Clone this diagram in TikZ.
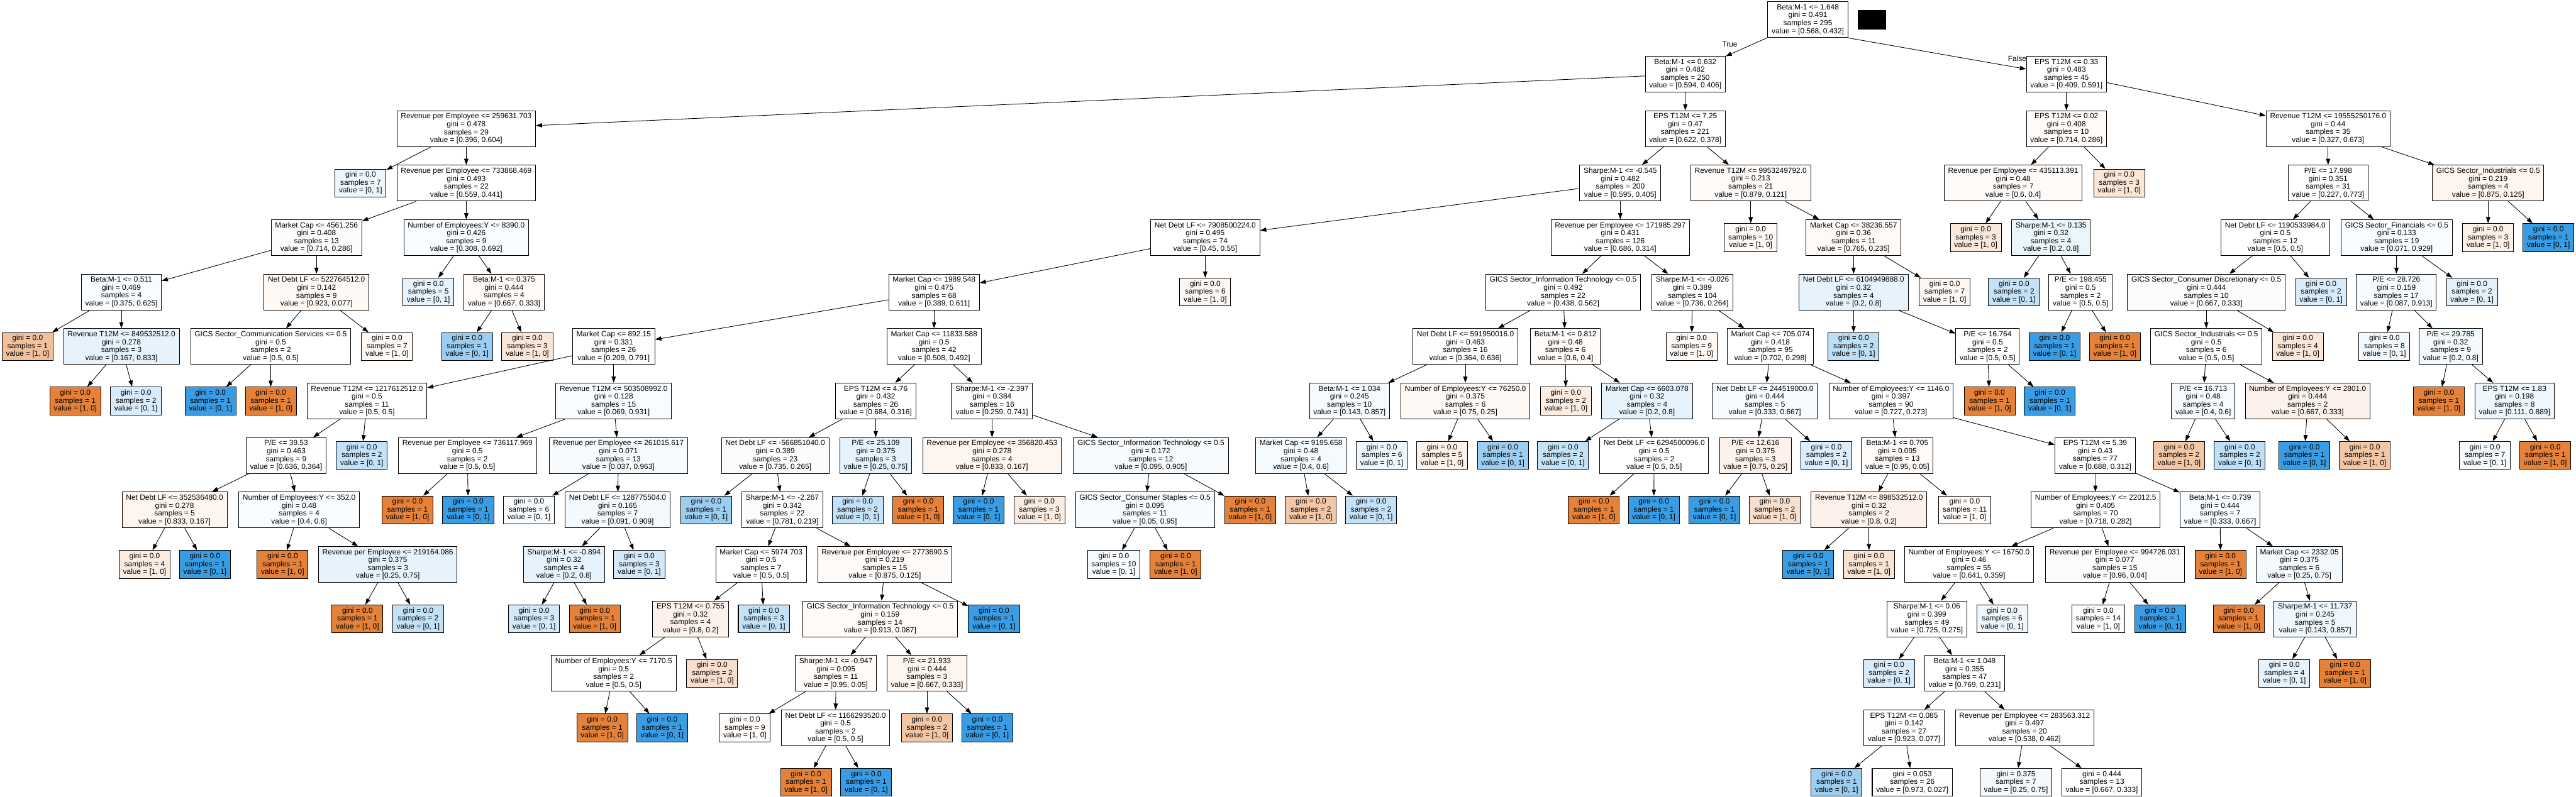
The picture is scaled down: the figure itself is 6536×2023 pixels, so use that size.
\documentclass[tikz,border=0pt]{standalone}
\usepackage{fontspec}
\setmainfont{Liberation Sans}
\usetikzlibrary{arrows.meta}
\definecolor{orng}{HTML}{E58139}
\definecolor{blu}{HTML}{399DE5}
\newcommand\DN[8]{\node[dn,fill=#4] (#1) at (#2,{50+138.3*#3}) {#5\\gini = #6\\samples = #7\\value = #8};}
\newcommand\LN[7]{\node[ln,fill=#4] (#1) at (#2,{50+138.3*#3}) {gini = #5\\samples = #6\\value = #7};}
\begin{document}
\begin{tikzpicture}[x=0.25pt,y=-0.25pt,
  base/.style={draw=black,line width=0.4pt,rectangle,align=center,inner xsep=2.5pt,inner ysep=0pt,font=\fontsize{4.75pt}{5pt}\selectfont},
  dn/.style={base,minimum height=22.75pt},
  ln/.style={base,minimum height=17.75pt},
  conn/.style={-{Triangle[length=3.9pt,width=2.7pt]},line width=0.35pt},
  lbl/.style={font=\fontsize{4.75pt}{5pt}\selectfont,inner sep=0pt}]
\fill[white] (0,0) rectangle (6536,2023);
\useasboundingbox (0,0) rectangle (6536,2023);
% level 0
\DN{n0}{4587}{0}{white}{Beta:M-1 <= 1.648}{0.491}{295}{[0.568, 0.432]}
\node[fill=black,inner sep=0pt,minimum width=18.25pt,minimum height=12.25pt] (redact) at (4749.5,50.5) {};
\node[lbl] (ltrue) at (4389,112) {True};
\node[lbl] (lfalse) at (5118,148) {False};
% level 1
\DN{n1}{4276}{1}{white}{Beta:M-1 <= 0.632}{0.482}{250}{[0.594, 0.406]}
\DN{n2}{5243}{1}{white}{EPS T12M <= 0.33}{0.483}{45}{[0.409, 0.591]}
% level 2
\DN{n3}{1183}{2}{white}{Revenue per Employee <= 259631.703}{0.478}{29}{[0.396, 0.604]}
\DN{n4}{4276}{2}{white}{EPS T12M <= 7.25}{0.47}{221}{[0.622, 0.378]}
\DN{n5}{5243}{2}{orng!3}{EPS T12M <= 0.02}{0.408}{10}{[0.714, 0.286]}
\DN{n6}{5907}{2}{white}{Revenue T12M <= 19555250176.0}{0.44}{35}{[0.327, 0.673]}
% level 3
\LN{n7}{915}{3}{blu!8}{0.0}{7}{[0, 1]}
\DN{n8}{1183}{3}{white}{Revenue per Employee <= 733868.469}{0.493}{22}{[0.559, 0.441]}
\DN{n9}{4111}{3}{white}{Sharpe:M-1 <= -0.545}{0.482}{200}{[0.595, 0.405]}
\DN{n10}{4442}{3}{orng!3}{Revenue T12M <= 9953249792.0}{0.213}{21}{[0.879, 0.121]}
\DN{n11}{5108}{3}{orng!3}{Revenue per Employee <= 435113.391}{0.48}{7}{[0.6, 0.4]}
\LN{n12}{5377}{3}{orng!20}{0.0}{3}{[1, 0]}
\DN{n13}{5907}{3}{white}{P/E <= 17.998}{0.351}{31}{[0.227, 0.773]}
\DN{n14}{6313}{3}{orng!8}{GICS Sector\_Industrials <= 0.5}{0.219}{4}{[0.875, 0.125]}
% level 4
\DN{n15}{803}{4}{orng!2}{Market Cap <= 4561.256}{0.408}{13}{[0.714, 0.286]}
\DN{n16}{1183}{4}{blu!3}{Number of Employees:Y <= 8390.0}{0.426}{9}{[0.308, 0.692]}
\DN{n17}{3058}{4}{white}{Net Debt LF <= 7908500224.0}{0.495}{74}{[0.45, 0.55]}
\DN{n18}{4111}{4}{white}{Revenue per Employee <= 171985.297}{0.431}{126}{[0.686, 0.314]}
\LN{n19}{4442}{4}{orng!4}{0.0}{10}{[1, 0]}
\DN{n20}{4703}{4}{orng!4}{Market Cap <= 38236.557}{0.36}{11}{[0.765, 0.235]}
\LN{n21}{5013}{4}{orng!18}{0.0}{3}{[1, 0]}
\DN{n22}{5204}{4}{blu!10}{Sharpe:M-1 <= 0.135}{0.32}{4}{[0.2, 0.8]}
\DN{n23}{5773}{4}{white}{Net Debt LF <= 1190533984.0}{0.5}{12}{[0.5, 0.5]}
\DN{n24}{6081}{4}{blu!3}{GICS Sector\_Financials <= 0.5}{0.133}{19}{[0.071, 0.929]}
\LN{n25}{6313}{4}{orng!12}{0.0}{3}{[1, 0]}
\LN{n26}{6466}{4}{blu}{0.0}{1}{[0, 1]}
% level 5
\DN{n27}{308}{5}{blu!3}{Beta:M-1 <= 0.511}{0.469}{4}{[0.375, 0.625]}
\DN{n28}{803}{5}{orng!5}{Net Debt LF <= 522764512.0}{0.142}{9}{[0.923, 0.077]}
\LN{n29}{1087}{5}{blu!12}{0.0}{5}{[0, 1]}
\DN{n30}{1279}{5}{orng!4}{Beta:M-1 <= 0.375}{0.444}{4}{[0.667, 0.333]}
\DN{n31}{2370}{5}{white}{Market Cap <= 1989.548}{0.475}{68}{[0.389, 0.611]}
\LN{n32}{3058}{5}{orng!6}{0.0}{6}{[1, 0]}
\DN{n33}{3966}{5}{white}{GICS Sector\_Information Technology <= 0.5}{0.492}{22}{[0.438, 0.562]}
\DN{n34}{4294}{5}{white}{Sharpe:M-1 <= -0.026}{0.389}{104}{[0.736, 0.264]}
\DN{n35}{4703}{5}{blu!12}{Net Debt LF <= 6104949888.0}{0.32}{4}{[0.2, 0.8]}
\LN{n36}{4934}{5}{orng!6}{0.0}{7}{[1, 0]}
\LN{n37}{5110}{5}{blu!30}{0.0}{2}{[0, 1]}
\DN{n38}{5279}{5}{white}{P/E <= 198.455}{0.5}{2}{[0.5, 0.5]}
\DN{n39}{5598}{5}{orng!2}{GICS Sector\_Consumer Discretionary <= 0.5}{0.444}{10}{[0.667, 0.333]}
\LN{n40}{5889}{5}{blu!20}{0.0}{2}{[0, 1]}
\DN{n41}{6080}{5}{blu!4}{P/E <= 28.726}{0.159}{17}{[0.087, 0.913]}
\LN{n42}{6272}{5}{blu!15}{0.0}{2}{[0, 1]}
% level 6
\LN{n43}{70}{6}{orng!50}{0.0}{1}{[1, 0]}
\DN{n44}{308}{6}{blu!12}{Revenue T12M <= 849532512.0}{0.278}{3}{[0.167, 0.833]}
\DN{n45}{687}{6}{white}{GICS Sector\_Communication Services <= 0.5}{0.5}{2}{[0.5, 0.5]}
\LN{n46}{982}{6}{orng!5}{0.0}{7}{[1, 0]}
\LN{n47}{1185}{6}{blu!50}{0.0}{1}{[0, 1]}
\LN{n48}{1338}{6}{orng!20}{0.0}{3}{[1, 0]}
\DN{n49}{1557}{6}{blu!2}{Market Cap <= 892.15}{0.331}{26}{[0.209, 0.791]}
\DN{n50}{2370}{6}{white}{Market Cap <= 11833.588}{0.5}{42}{[0.508, 0.492]}
\DN{n51}{3718}{6}{blu!1}{Net Debt LF <= 591950016.0}{0.463}{16}{[0.364, 0.636]}
\DN{n52}{3972}{6}{orng!3}{Beta:M-1 <= 0.812}{0.48}{6}{[0.6, 0.4]}
\LN{n53}{4292}{6}{orng!5}{0.0}{9}{[1, 0]}
\DN{n54}{4492}{6}{white}{Market Cap <= 705.074}{0.418}{95}{[0.702, 0.298]}
\LN{n55}{4703}{6}{blu!33}{0.0}{2}{[0, 1]}
\DN{n56}{5043}{6}{white}{P/E <= 16.764}{0.5}{2}{[0.5, 0.5]}
\LN{n57}{5213}{6}{blu}{0.0}{1}{[0, 1]}
\LN{n58}{5366}{6}{orng}{0.0}{1}{[1, 0]}
\DN{n59}{5598}{6}{white}{GICS Sector\_Industrials <= 0.5}{0.5}{6}{[0.5, 0.5]}
\LN{n60}{5830}{6}{orng!20}{0.0}{4}{[1, 0]}
\LN{n61}{6050}{6}{blu!6}{0.0}{8}{[0, 1]}
\DN{n62}{6218}{6}{blu!6}{P/E <= 29.785}{0.32}{9}{[0.2, 0.8]}
% level 7
\LN{n63}{191}{7}{orng}{0.0}{1}{[1, 0]}
\LN{n64}{345}{7}{blu!20}{0.0}{2}{[0, 1]}
\LN{n65}{534}{7}{blu}{0.0}{1}{[0, 1]}
\LN{n66}{687}{7}{orng}{0.0}{1}{[1, 0]}
\DN{n67}{931}{7}{white}{Revenue T12M <= 1217612512.0}{0.5}{11}{[0.5, 0.5]}
\DN{n68}{1557}{7}{blu!3}{Revenue T12M <= 503508992.0}{0.128}{15}{[0.069, 0.931]}
\DN{n69}{2222}{7}{orng!1}{EPS T12M <= 4.76}{0.432}{26}{[0.684, 0.316]}
\DN{n70}{2517}{7}{blu!2}{Sharpe:M-1 <= -2.397}{0.384}{16}{[0.259, 0.741]}
\DN{n71}{3424}{7}{blu!5}{Beta:M-1 <= 1.034}{0.245}{10}{[0.143, 0.857]}
\DN{n72}{3718}{7}{orng!5}{Number of Employees:Y <= 76250.0}{0.375}{6}{[0.75, 0.25]}
\LN{n73}{3973}{7}{orng!15}{0.0}{2}{[1, 0]}
\DN{n74}{4179}{7}{blu!12}{Market Cap <= 6603.078}{0.32}{4}{[0.2, 0.8]}
\DN{n75}{4478}{7}{blu!4}{Net Debt LF <= 244519000.0}{0.444}{5}{[0.333, 0.667]}
\DN{n76}{4798}{7}{white}{Number of Employees:Y <= 1146.0}{0.397}{90}{[0.727, 0.273]}
\LN{n77}{5048}{7}{orng}{0.0}{1}{[1, 0]}
\LN{n78}{5201}{7}{blu}{0.0}{1}{[0, 1]}
\DN{n79}{5590}{7}{blu!5}{P/E <= 16.713}{0.48}{4}{[0.4, 0.6]}
\DN{n80}{5855}{7}{orng!10}{Number of Employees:Y <= 2801.0}{0.444}{2}{[0.667, 0.333]}
\LN{n81}{6188}{7}{orng}{0.0}{1}{[1, 0]}
\DN{n82}{6380}{7}{blu!8}{EPS T12M <= 1.83}{0.198}{8}{[0.111, 0.889]}
% level 8
\DN{n83}{726}{8}{orng!1}{P/E <= 39.53}{0.463}{9}{[0.636, 0.364]}
\LN{n84}{918}{8}{blu!30}{0.0}{2}{[0, 1]}
\DN{n85}{1186}{8}{white}{Revenue per Employee <= 736117.969}{0.5}{2}{[0.5, 0.5]}
\DN{n86}{1569}{8}{blu!4}{Revenue per Employee <= 261015.617}{0.071}{13}{[0.037, 0.963]}
\DN{n87}{1967}{8}{orng!2}{Net Debt LF <= -566851040.0}{0.389}{23}{[0.735, 0.265]}
\DN{n88}{2222}{8}{blu!12}{P/E <= 25.109}{0.375}{3}{[0.25, 0.75]}
\DN{n89}{2517}{8}{orng!8}{Revenue per Employee <= 356820.453}{0.278}{4}{[0.833, 0.167]}
\DN{n90}{2920}{8}{blu!4}{GICS Sector\_Information Technology <= 0.5}{0.172}{12}{[0.095, 0.905]}
\DN{n91}{3301}{8}{blu!5}{Market Cap <= 9195.658}{0.48}{4}{[0.4, 0.6]}
\LN{n92}{3506}{8}{blu!8}{0.0}{6}{[0, 1]}
\LN{n93}{3659}{8}{orng!12}{0.0}{5}{[1, 0]}
\LN{n94}{3813}{8}{blu!50}{0.0}{1}{[0, 1]}
\LN{n95}{3966}{8}{blu!30}{0.0}{2}{[0, 1]}
\DN{n96}{4197}{8}{white}{Net Debt LF <= 6294500096.0}{0.5}{2}{[0.5, 0.5]}
\DN{n97}{4454}{8}{orng!10}{P/E <= 12.616}{0.375}{3}{[0.75, 0.25]}
\LN{n98}{4634}{8}{blu!18}{0.0}{2}{[0, 1]}
\DN{n99}{4814}{8}{orng!3}{Beta:M-1 <= 0.705}{0.095}{13}{[0.95, 0.05]}
\DN{n100}{5316}{8}{white}{EPS T12M <= 5.39}{0.43}{77}{[0.688, 0.312]}
\LN{n101}{5529}{8}{orng!45}{0.0}{2}{[1, 0]}
\LN{n102}{5683}{8}{blu!33}{0.0}{2}{[0, 1]}
\LN{n103}{5847}{8}{blu}{0.0}{1}{[0, 1]}
\LN{n104}{6000}{8}{orng!45}{0.0}{1}{[1, 0]}
\LN{n105}{6305}{8}{blu!6}{0.0}{7}{[0, 1]}
\LN{n106}{6458}{8}{orng}{0.0}{1}{[1, 0]}
% level 9
\DN{n107}{443}{9}{orng!8}{Net Debt LF <= 352536480.0}{0.278}{5}{[0.833, 0.167]}
\DN{n108}{759}{9}{blu!3}{Number of Employees:Y <= 352.0}{0.48}{4}{[0.4, 0.6]}
\LN{n109}{1034}{9}{orng}{0.0}{1}{[1, 0]}
\LN{n110}{1188}{9}{blu}{0.0}{1}{[0, 1]}
\LN{n111}{1342}{9}{blu!4}{0.0}{6}{[0, 1]}
\DN{n112}{1567}{9}{blu!6}{Net Debt LF <= 128775504.0}{0.165}{7}{[0.091, 0.909]}
\LN{n113}{1792}{9}{blu!50}{0.0}{1}{[0, 1]}
\DN{n114}{1985}{9}{orng!2}{Sharpe:M-1 <= -2.267}{0.342}{22}{[0.781, 0.219]}
\LN{n115}{2176}{9}{blu!30}{0.0}{2}{[0, 1]}
\LN{n116}{2330}{9}{orng}{0.0}{1}{[1, 0]}
\LN{n117}{2483}{9}{blu}{0.0}{1}{[0, 1]}
\LN{n118}{2637}{9}{orng!15}{0.0}{3}{[1, 0]}
\DN{n119}{2905}{9}{blu!4}{GICS Sector\_Consumer Staples <= 0.5}{0.095}{11}{[0.05, 0.95]}
\LN{n120}{3172}{9}{orng}{0.0}{1}{[1, 0]}
\LN{n121}{3326}{9}{orng!45}{0.0}{2}{[1, 0]}
\LN{n122}{3479}{9}{blu!30}{0.0}{2}{[0, 1]}
\LN{n123}{4044}{9}{orng}{0.0}{1}{[1, 0]}
\LN{n124}{4196}{9}{blu}{0.0}{1}{[0, 1]}
\LN{n125}{4350}{9}{blu}{0.0}{1}{[0, 1]}
\LN{n126}{4503}{9}{orng!25}{0.0}{2}{[1, 0]}
\DN{n127}{4742}{9}{orng!10}{Revenue T12M <= 898532512.0}{0.32}{2}{[0.8, 0.2]}
\LN{n128}{4985}{9}{orng!3}{0.0}{11}{[1, 0]}
\DN{n129}{5317}{9}{white}{Number of Employees:Y <= 22012.5}{0.405}{70}{[0.718, 0.282]}
\DN{n130}{5633}{9}{blu!3}{Beta:M-1 <= 0.739}{0.444}{7}{[0.333, 0.667]}
% level 10
\LN{n131}{367}{10}{orng!15}{0.0}{4}{[1, 0]}
\LN{n132}{520}{10}{blu}{0.0}{1}{[0, 1]}
\LN{n133}{717}{10}{orng}{0.0}{1}{[1, 0]}
\DN{n134}{984}{10}{blu!12}{Revenue per Employee <= 219164.086}{0.375}{3}{[0.25, 0.75]}
\DN{n135}{1431}{10}{blu!12}{Sharpe:M-1 <= -0.894}{0.32}{4}{[0.2, 0.8]}
\LN{n136}{1622}{10}{blu!22}{0.0}{3}{[0, 1]}
\DN{n137}{1931}{10}{white}{Market Cap <= 5974.703}{0.5}{7}{[0.5, 0.5]}
\DN{n138}{2245}{10}{orng!3}{Revenue per Employee <= 2773690.5}{0.219}{15}{[0.875, 0.125]}
\LN{n139}{2826}{10}{blu!4}{0.0}{10}{[0, 1]}
\LN{n140}{2983}{10}{orng}{0.0}{1}{[1, 0]}
\LN{n141}{4588}{10}{blu}{0.0}{1}{[0, 1]}
\LN{n142}{4742}{10}{orng!22}{0.0}{1}{[1, 0]}
\DN{n143}{4996}{10}{white}{Number of Employees:Y <= 16750.0}{0.46}{55}{[0.641, 0.359]}
\DN{n144}{5366}{10}{orng!2}{Revenue per Employee <= 994726.031}{0.077}{15}{[0.96, 0.04]}
\LN{n145}{5634}{10}{orng}{0.0}{1}{[1, 0]}
\DN{n146}{5834}{10}{blu!6}{Market Cap <= 2332.05}{0.375}{6}{[0.25, 0.75]}
% level 11
\LN{n147}{907}{11}{orng}{0.0}{1}{[1, 0]}
\LN{n148}{1061}{11}{blu!30}{0.0}{2}{[0, 1]}
\LN{n149}{1355}{11}{blu!22}{0.0}{3}{[0, 1]}
\LN{n150}{1509}{11}{orng}{0.0}{1}{[1, 0]}
\DN{n151}{1752}{11}{orng!10}{EPS T12M <= 0.755}{0.32}{4}{[0.8, 0.2]}
\LN{n152}{1938}{11}{blu!30}{0.0}{3}{[0, 1]}
\DN{n153}{2233}{11}{orng!3}{GICS Sector\_Information Technology <= 0.5}{0.159}{14}{[0.913, 0.087]}
\LN{n154}{2522}{11}{blu}{0.0}{1}{[0, 1]}
\DN{n155}{4889}{11}{white}{Sharpe:M-1 <= 0.06}{0.399}{49}{[0.725, 0.275]}
\LN{n156}{5080}{11}{blu!8}{0.0}{6}{[0, 1]}
\LN{n157}{5324}{11}{orng!2}{0.0}{14}{[1, 0]}
\LN{n158}{5481}{11}{blu}{0.0}{1}{[0, 1]}
\LN{n159}{5680}{11}{orng}{0.0}{1}{[1, 0]}
\DN{n160}{5874}{11}{blu!8}{Sharpe:M-1 <= 11.737}{0.245}{5}{[0.143, 0.857]}
% level 12
\DN{n161}{1557}{12}{white}{Number of Employees:Y <= 7170.5}{0.5}{2}{[0.5, 0.5]}
\LN{n162}{1807}{12}{orng!25}{0.0}{2}{[1, 0]}
\DN{n163}{2121}{12}{orng!3}{Sharpe:M-1 <= -0.947}{0.095}{11}{[0.95, 0.05]}
\DN{n164}{2352}{12}{orng!8}{P/E <= 21.933}{0.444}{3}{[0.667, 0.333]}
\LN{n165}{4793}{12}{blu!20}{0.0}{2}{[0, 1]}
\DN{n166}{4985}{12}{white}{Beta:M-1 <= 1.048}{0.355}{47}{[0.769, 0.231]}
\LN{n167}{5796}{12}{blu!12}{0.0}{4}{[0, 1]}
\LN{n168}{5950}{12}{orng}{0.0}{1}{[1, 0]}
% level 13
\LN{n169}{1528}{13}{orng}{0.0}{1}{[1, 0]}
\LN{n170}{1680}{13}{blu}{0.0}{1}{[0, 1]}
\LN{n171}{1890}{13}{orng!3}{0.0}{9}{[1, 0]}
\DN{n172}{2120}{13}{white}{Net Debt LF <= 1166293520.0}{0.5}{2}{[0.5, 0.5]}
\LN{n173}{2352}{13}{orng!45}{0.0}{2}{[1, 0]}
\LN{n174}{2505}{13}{blu}{0.0}{1}{[0, 1]}
\DN{n175}{4831}{13}{orng!1}{EPS T12M <= 0.085}{0.142}{27}{[0.923, 0.077]}
\DN{n176}{5137}{13}{white}{Revenue per Employee <= 283563.312}{0.497}{20}{[0.538, 0.462]}
% level 14
\LN{n177}{2045}{14}{orng}{0.0}{1}{[1, 0]}
\LN{n178}{2198}{14}{blu}{0.0}{1}{[0, 1]}
\LN{n179}{4660}{14}{blu!50}{0.0}{1}{[0, 1]}
\LN{n180}{4852}{14}{orng!1}{0.053}{26}{[0.973, 0.027]}
\LN{n181}{5115}{14}{blu!6}{0.375}{7}{[0.25, 0.75]}
\LN{n182}{5333}{14}{white}{0.444}{13}{[0.667, 0.333]}
% edges
\draw[conn] (n0.south east) -- ([yshift=3.25pt]n2.west);
\foreach \a/\b in {n0/n1,n1/n3,n1/n4,n2/n5,n2/n6,n3/n7,n3/n8,n8/n15,n8/n16,
 n15/n27,n15/n28,n27/n43,n27/n44,n44/n63,n44/n64,n28/n45,n28/n46,n45/n65,n45/n66,
 n16/n29,n16/n30,n30/n47,n30/n48,n4/n9,n4/n10,n9/n17,n9/n18,n17/n31,n17/n32,
 n31/n49,n31/n50,n49/n67,n49/n68,n67/n83,n67/n84,n83/n107,n83/n108,n107/n131,n107/n132,
 n108/n133,n108/n134,n134/n147,n134/n148,n68/n85,n68/n86,n85/n109,n85/n110,n86/n111,n86/n112,
 n112/n135,n112/n136,n135/n149,n135/n150,n50/n69,n50/n70,n69/n87,n69/n88,n87/n113,n87/n114,
 n114/n137,n114/n138,n137/n151,n137/n152,n151/n161,n151/n162,n161/n169,n161/n170,
 n138/n153,n138/n154,n153/n163,n153/n164,n163/n171,n163/n172,n172/n177,n172/n178,
 n164/n173,n164/n174,n88/n115,n88/n116,n70/n89,n70/n90,n89/n117,n89/n118,n90/n119,n90/n120,
 n119/n139,n119/n140,n18/n33,n18/n34,n33/n51,n33/n52,n51/n71,n51/n72,n71/n91,n71/n92,
 n91/n121,n91/n122,n72/n93,n72/n94,n52/n73,n52/n74,n74/n95,n74/n96,n96/n123,n96/n124,
 n34/n53,n34/n54,n54/n75,n54/n76,n75/n97,n75/n98,n97/n125,n97/n126,n76/n99,n76/n100,
 n99/n127,n99/n128,n127/n141,n127/n142,n100/n129,n100/n130,n129/n143,n129/n144,
 n143/n155,n143/n156,n155/n165,n155/n166,n166/n175,n166/n176,n175/n179,n175/n180,
 n176/n181,n176/n182,n144/n157,n144/n158,n130/n145,n130/n146,n146/n159,n146/n160,
 n160/n167,n160/n168,n10/n19,n10/n20,n20/n35,n20/n36,n35/n55,n35/n56,n56/n77,n56/n78,
 n5/n11,n5/n12,n11/n21,n11/n22,n22/n37,n22/n38,n38/n57,n38/n58,n6/n13,n6/n14,
 n14/n25,n14/n26,n13/n23,n13/n24,n23/n39,n23/n40,n39/n59,n39/n60,n59/n79,n59/n80,
 n79/n101,n79/n102,n80/n103,n80/n104,n24/n41,n24/n42,n41/n61,n41/n62,n62/n81,n62/n82,
 n82/n105,n82/n106}
 \draw[conn] (\a) -- (\b);
\end{tikzpicture}
\end{document}
